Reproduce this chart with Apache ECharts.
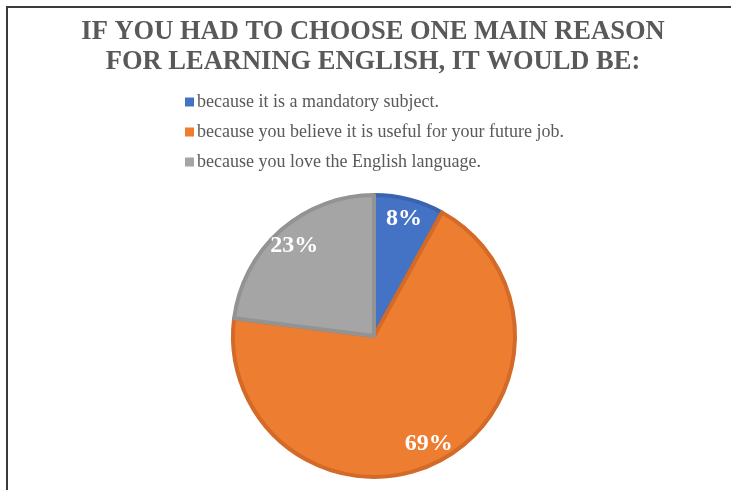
<!DOCTYPE html>
<html>
<head>
<meta charset="utf-8">
<script src="https://cdn.jsdelivr.net/npm/echarts@6/dist/echarts.min.js"></script>
<style>
  html, body { margin: 0; padding: 0; background: #fff; }
  #wrap { position: relative; width: 731px; height: 490px; overflow: hidden; }
  #frame { position: absolute; left: 6px; top: 6px; width: 800px; height: 600px;
           border-top: 2px solid #3a3a3a; border-left: 2px solid #3a3a3a; }
  #chart { position: absolute; left: 0; top: 0; width: 731px; height: 490px; }
</style>
</head>
<body>
<div id="wrap">
  <div id="frame"></div>
  <div id="chart"></div>
</div>
<script>
const titleText = 'IF YOU HAD TO CHOOSE ONE MAIN REASON\nFOR LEARNING ENGLISH, IT WOULD BE:';
const categories = [
  'because it is a mandatory subject.',
  'because you believe it is useful for your future job.',
  'because you love the English language.'
];
const values = [8, 69, 23];
const colors = ['#4472C4', '#ED7D31', '#A5A5A5'];
const borderColors = ['#3A64AE', '#D36A28', '#939393'];

const serif = '"Liberation Serif", "Times New Roman", serif';

const mainData = categories.map((c, i) => ({
  name: c, value: values[i],
  itemStyle: { color: colors[i], borderColor: borderColors[i], borderWidth: 4 }
}));
const labelData = categories.map((c, i) => ({ name: c, value: values[i] }));

const chart = echarts.init(document.getElementById('chart'));
chart.setOption({
  animation: false,
  title: {
    text: titleText,
    left: 368,
    top: 12,
    textAlign: 'center',
    textStyle: { fontFamily: serif, fontWeight: 'bold', fontSize: 26.5, lineHeight: 30, color: '#595959' }
  },
  legend: {
    orient: 'vertical',
    left: 185,
    top: 93,
    padding: 0,
    icon: 'rect',
    itemWidth: 9,
    itemHeight: 9,
    itemGap: 12,
    selectedMode: false,
    data: categories,
    itemStyle: { borderWidth: 0 },
    textStyle: { fontFamily: serif, fontSize: 18, lineHeight: 18, color: '#595959', padding: [0, 0, 0, -2] }
  },
  series: [
    {
      type: 'pie',
      center: [374, 336],
      radius: [0, 141],
      startAngle: 90,
      clockwise: true,
      label: { show: false },
      labelLine: { show: false },
      emphasis: { disabled: true },
      data: mainData
    },
    {
      type: 'pie',
      center: [374, 336],
      radius: [94, 141],
      startAngle: 90,
      clockwise: true,
      silent: true,
      legendHoverLink: false,
      itemStyle: { color: 'rgba(0,0,0,0)', borderWidth: 0 },
      label: {
        show: true,
        position: 'inside',
        formatter: '{c}%',
        fontFamily: serif,
        fontWeight: 'bold',
        fontSize: 24,
        color: '#ffffff'
      },
      labelLine: { show: false },
      emphasis: { disabled: true },
      data: labelData
    }
  ]
});
</script>
</body>
</html>
